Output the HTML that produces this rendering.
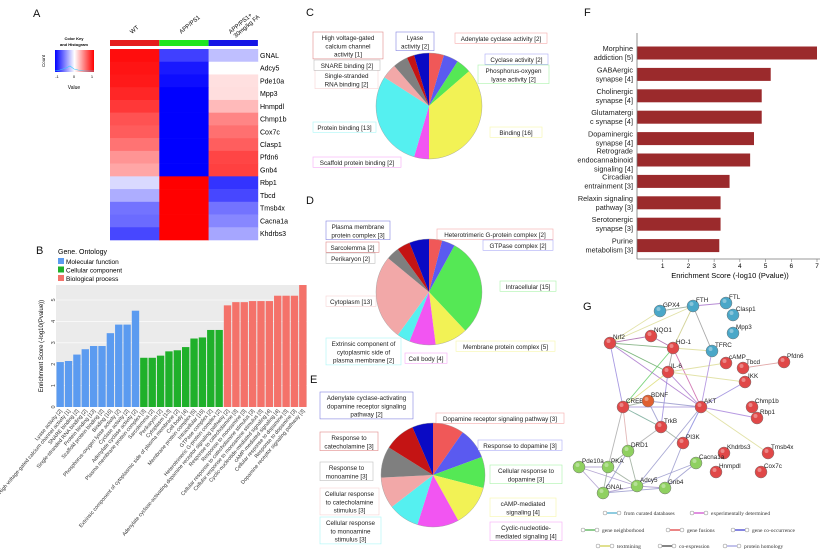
<!DOCTYPE html>
<html><head><meta charset="utf-8">
<style>
html,body{margin:0;padding:0;background:#fff;}
svg{display:block;font-family:"Liberation Sans",Arial,sans-serif;}
</style></head>
<body>
<svg id="fig" width="824" height="553" viewBox="0 0 824 553" xmlns="http://www.w3.org/2000/svg">
<g font-size="11" fill="#111">
<text x="33" y="17">A</text><text x="36" y="254">B</text><text x="306" y="16">C</text>
<text x="306" y="204">D</text><text x="310" y="383">E</text><text x="584" y="16">F</text><text x="583" y="310">G</text>
</g>
<g id="heat"></g>
<g id="barsB"></g>
<g id="pies"></g>
<g id="barsF"></g>
<g id="net"></g>
</svg>
<script>
// ---------- Panel A data ----------
const heatGenes=["GNAL","Adcy5","Pde10a","Mpp3","Hnmpdl","Chmp1b","Cox7c","Clasp1","Pfdn6","Gnb4","Rbp1","Tbcd","Tmsb4x","Cacna1a","Khdrbs3"];
const heatGroups=["WT","APP/PS1","APP/PS1+ 30mg/kg FA"];
const heatWT=[0.95,0.92,0.9,0.85,0.78,0.68,0.64,0.55,0.42,0.35,-0.15,-0.32,-0.55,-0.58,-0.72];
const heatAPP=[-0.75,-0.9,-0.95,-1,-1,-1,-1,-1,-1,-1,1,1,1,1,1];
const heatFA=[-0.25,0,0.12,0.13,0.27,0.48,0.56,0.63,0.73,0.75,-0.8,-0.72,-0.55,-0.47,-0.35];
// ---------- Panel B data ----------
const goLabels=["Lyase activity [2]","High voltage-gated calcium channel activity [1]","SNARE binding [2]","Single-stranded RNA binding [2]","Protein binding [13]","Scaffold protein binding [2]","Binding [16]","Phosphorus-oxygen lyase activity [2]","Cyclase activity [2]","Adenylate cyclase activity [2]",
"Plasma membrane protein complex [3]","Sarcolemma [2]","Perikaryon [2]","Cytoplasm [13]","Extrinsic component of cytoplasmic side of plasma membrane [2]","Cell body [4]","Membrane protein complex [5]","Intracellular [15]","GTPase complex [2]","Heterotrimeric G-protein complex [2]",
"Adenylate cyclase-activating dopamine receptor signaling pathway [2]","Response to catecholamine [3]","Response to monoamine [3]","Cellular response to catecholamine stimulus [3]","Cellular response to monoamine stimulus [3]","Cyclic-nucleotide-mediated signaling [4]","cAMP-mediated signaling [4]","Cellular response to dopamine [3]","Response to dopamine [3]","Dopamine receptor signaling pathway [3]"];
const goValues=[2.1,2.15,2.45,2.7,2.85,2.85,3.45,3.85,3.85,4.5, 2.3,2.3,2.4,2.6,2.65,2.8,3.2,3.25,3.6,3.6, 4.75,4.9,4.9,4.95,4.95,4.95,5.2,5.2,5.2,5.7];
const goCategory=[0,0,0,0,0,0,0,0,0,0,1,1,1,1,1,1,1,1,1,1,2,2,2,2,2,2,2,2,2,2];
const goCatNames=["Molecular function","Cellular component","Biological process"];
const goTicks=[0,1,2,3,4,5];
// ---------- Pie data ----------
const pieCLabels=["Adenylate cyclase activity [2]","Cyclase activity [2]","Phosphorus-oxygen lyase activity [2]","Binding [16]","Scaffold protein binding [2]","Protein binding [13]","Single-stranded RNA binding [2]","SNARE binding [2]","High voltage-gated calcium channel activity [1]","Lyase activity [2]"];
const pieCValues=[2,2,2,16,2,13,2,2,1,2];
const pieDLabels=["Heterotrimeric G-protein complex [2]","GTPase complex [2]","Intracellular [15]","Membrane protein complex [5]","Cell body [4]","Extrinsic component of cytoplasmic side of plasma membrane [2]","Cytoplasm [13]","Perikaryon [2]","Sarcolemma [2]","Plasma membrane protein complex [3]"];
const pieDValues=[2,2,15,5,4,2,13,2,2,3];
const pieELabels=["Dopamine receptor signaling pathway [3]","Response to dopamine [3]","Cellular response to dopamine [3]","cAMP-mediated signaling [4]","Cyclic-nucleotide-mediated signaling [4]","Cellular response to monoamine stimulus [3]","Cellular response to catecholamine stimulus [3]","Response to monoamine [3]","Response to catecholamine [3]","Adenylate cyclase-activating dopamine receptor signaling pathway [2]"];
const pieEValues=[3,3,3,4,4,3,3,3,3,2];
// ---------- Panel F data ----------
const keggLabels=[["Morphine","addiction [5]"],["GABAergic","synapse [4]"],["Cholinergic","synapse [4]"],["Glutamatergi","c synapse [4]"],["Dopaminergic","synapse [4]"],["Retrograde","endocannabinoid","signaling [4]"],["Circadian","entrainment [3]"],["Relaxin signaling","pathway [3]"],["Serotonergic","synapse [3]"],["Purine","metabolism [3]"]];
const keggValues=[7.0,5.2,4.85,4.85,4.55,4.4,3.6,3.25,3.25,3.2];
const keggTicks=[1,2,3,4,5,6,7];

const NS="http://www.w3.org/2000/svg";
function mk(tag,attrs,parent,txt){const e=document.createElementNS(NS,tag);for(const k in attrs)e.setAttribute(k,attrs[k]);if(txt!==undefined)e.textContent=txt;parent.appendChild(e);return e;}

// ---------- Heatmap ----------
(function(){
 const g=document.getElementById('heat');
 function col(v){const w=Math.round(255*(1-Math.abs(v)));return v>=0?`rgb(255,${w},${w})`:`rgb(${w},${w},255)`;}
 const x0=110,cw=49.3,y0=49,rh=(240-49)/heatGenes.length;
 const hdr=["#e51c1c","#1fe61f","#1414e6"];
 const cols=[heatWT,heatAPP,heatFA];
 heatGroups.forEach((n,j)=>{
  const r=mk('rect',{x:x0+j*cw,y:40,width:cw,height:6,fill:hdr[j]},g);
  
  const t=mk('text',{x:x0+j*cw+22,y:34,'font-size':6,transform:`rotate(-40 ${x0+j*cw+22} 34)`},g,j==2?"APP/PS1+":n);
  
  if(j==2){const t2=mk('text',{x:x0+j*cw+27,y:38,'font-size':6,transform:`rotate(-40 ${x0+j*cw+27} 38)`},g,"30mg/kg FA");}
 });
 heatGenes.forEach((gn,i)=>{
  cols.forEach((arr,j)=>{
   const r=mk('rect',{x:x0+j*cw,y:y0+i*rh,width:cw+0.3,height:rh+0.3,fill:col(arr[i])},g);
   
  });
  const t=mk('text',{x:260,y:y0+i*rh+rh/2+2.5,'font-size':7},g,gn);
  
 });
 // color key
 const d=mk('defs',{},g);const lg=mk('linearGradient',{id:'ck',x1:0,x2:1,y1:0,y2:0},d);
 mk('stop',{offset:0,'stop-color':'#0000ff'},lg);mk('stop',{offset:0.5,'stop-color':'#fff'},lg);mk('stop',{offset:1,'stop-color':'#ff0000'},lg);
 const k=mk('rect',{x:55,y:50,width:39,height:22,fill:'url(#ck)'},g);
 mk('polyline',{points:'55,71 60,70 66,68 70,66 74,69 78,70 84,71 94,71',fill:'none',stroke:'#3cf',"stroke-width":0.6},g);
 mk('text',{x:74,y:40,'font-size':4,'font-weight':'bold','text-anchor':'middle'},g,"Color Key");
 mk('text',{x:74,y:46,'font-size':4,'font-weight':'bold','text-anchor':'middle'},g,"and Histogram");
 mk('text',{x:45,y:61,'font-size':4.5,'text-anchor':'middle',transform:'rotate(-90 45 61)'},g,"Count");
 [["-1",57],["0",74],["1",92]].forEach(a=>mk('text',{x:a[1],y:78,'font-size':4,'text-anchor':'middle'},g,a[0]));
 mk('text',{x:74,y:89,'font-size':5,'text-anchor':'middle'},g,"Value");
})();

// ---------- Panel B ----------
(function(){
 const g=document.getElementById('barsB');
 const L=56,R=307,T=285,B=407,ymax=5.7;
 const y=v=>B-v*(B-300)/5;
 const bw=(R-L)/goValues.length;
 const x=i=>L+i*bw;
 const cc=["#5b9bf0","#1fb02a","#f4726a"];
 const bg=mk('rect',{x:L,y:T,width:R-L,height:B-T,fill:'#ebebeb'},g);
 goTicks.forEach(t=>{
  mk('line',{x1:L,x2:R,y1:y(t),y2:y(t),stroke:'#fff','stroke-width':0.6},g);
  const tl=mk('text',{x:L-3,y:y(t)+2,'font-size':5.5,'text-anchor':'middle',fill:'#444',transform:`rotate(-90 ${L-3} ${y(t)})`},g,t);
  
 });
 goValues.forEach((v,i)=>{
  const r=mk('rect',{x:x(i)+0.5,y:y(v),width:bw-1,height:B-y(v),fill:cc[goCategory[i]]},g);
  
  const cx=x(i)+bw/2+2;
  const t=mk('text',{x:cx,y:B+4,'font-size':5.3,'text-anchor':'end',fill:'#333',transform:`rotate(-50 ${cx} ${B+4})`},g,goLabels[i]);
  
 });
 const yt=mk('text',{x:43,y:346,'font-size':6,'text-anchor':'middle',transform:'rotate(-90 43 346)'},g,"Enrichment Score (-log10(Pvalue))");
 
 mk('text',{x:58,y:254,'font-size':7},g,"Gene. Ontology");
 goCatNames.forEach((n,i)=>{
  const s=mk('rect',{x:58,y:258+i*8.5,width:6,height:6,fill:cc[i]},g);
  const t=mk('text',{x:66,y:264+i*8.5,'font-size':6.5},g,n);
 });
})();

// ---------- Pies ----------
(function(){
 const g=document.getElementById('pies');
 const pc=["#f05858","#5a5af0","#55e855","#f2f255","#f255f2","#55f0f0","#f2a8a8","#7f7f7f","#c41414","#0a0ac4"];
 function pie(vals,labels,cx,cy,r,boxes,name){
  const tot=vals.reduce((a,b)=>a+b,0);let a0=0;
  vals.forEach((v,i)=>{
   const a1=a0+v/tot*2*Math.PI;
   const p=(a)=>[cx+r*Math.sin(a),cy-r*Math.cos(a)];
   const [x0,y0]=p(a0),[x1,y1]=p(a1);
   const s=mk('path',{d:`M${cx},${cy}L${x0},${y0}A${r},${r} 0 ${a1-a0>Math.PI?1:0} 1 ${x1},${y1}Z`,fill:pc[i]},g);
   
   a0=a1;
  });
  mk('circle',{cx:cx,cy:cy,r:r,fill:'none',stroke:'#999','stroke-width':0.4},g);
  boxes.forEach((b,i)=>{
   const [bx,by,bw,lines]=b;const bh=lines.length*8.3+2;
   const rr=mk('rect',{x:bx,y:by,width:bw,height:bh,fill:'#fff',stroke:pc[i],'stroke-opacity':0.5,'stroke-width':0.6},g);
   
   lines.forEach((ln,k)=>{const t=mk('text',{x:bx+bw/2,y:by+8+k*8.3,'font-size':6.3,'text-anchor':'middle',fill:'#222'},g,ln);});
  });
 }
 pie(pieCValues,pieCLabels,429,106,53,[
  [455,33,92,["Adenylate cyclase activity [2]"]],[485,54,63,["Cyclase activity [2]"]],[478,65,71,["Phosphorus-oxygen","lyase activity [2]"]],
  [490,127,52,["Binding [16]"]],[313,157,88,["Scaffold protein binding [2]"]],[313,122,63,["Protein binding [13]"]],
  [315,70,63,["Single-stranded","RNA binding [2]"]],[314,60,66,["SNARE binding [2]"]],[313,32,70,["High voltage-gated","calcium channel","activity [1]"]],[396,32,38,["Lyase","activity [2]"]]],'pie-c');
 pie(pieDValues,pieDLabels,429,292,53,[
  [437,229,116,["Heterotrimeric G-protein complex [2]"]],[483,240,70,["GTPase complex [2]"]],[500,281,56,["Intracellular [15]"]],
  [456,341,99,["Membrane protein complex [5]"]],[405,353,42,["Cell body [4]"]],[326,338,75,["Extrinsic component of","cytoplasmic side of","plasma membrane [2]"]],
  [326,296,50,["Cytoplasm [13]"]],[326,253,49,["Perikaryon [2]"]],[326,242,53,["Sarcolemma [2]"]],[326,221,64,["Plasma membrane","protein complex [3]"]]],'pie-d');
 pie(pieEValues,pieELabels,433,475,52,[
  [436,413,128,["Dopamine receptor signaling pathway [3]"]],[478,440,84,["Response to dopamine [3]"]],[490,465,72,["Cellular response to","dopamine [3]"]],
  [490,498,66,["cAMP-mediated","signaling [4]"]],[490,522,72,["Cyclic-nucleotide-","mediated signaling [4]"]],[320,517,61,["Cellular response","to monoamine","stimulus [3]"]],
  [320,488,59,["Cellular response","to catecholamine","stimulus [3]"]],[320,462,53,["Response to","monoamine [3]"]],[320,432,58,["Response to","catecholamine [3]"]],
  [320,392,93,["Adenylate cyclase-activating","dopamine receptor signaling","pathway [2]"]]],'pie-e');
})();

// ---------- Panel F ----------
(function(){
 const g=document.getElementById('barsF');
 const L=637,T=33,B=259,unit=(817-637)/7;
 const x=v=>L+v*unit;
 const step=(B-T-12)/keggValues.length;
 const yc=i=>T+20+i*step;
 keggValues.forEach((v,i)=>{
  const r=mk('rect',{x:L,y:yc(i)-6.5,width:x(v)-L,height:13,fill:'#9b2a2c'},g);
  
  const ls=keggLabels[i];
  ls.forEach((ln,k)=>{const t=mk('text',{x:L-4,y:yc(i)+2.5+(k-(ls.length-1)/2)*9,'font-size':7.3,'text-anchor':'end',fill:'#222'},g,ln);});
 });
 mk('line',{x1:L,x2:L,y1:T,y2:B,stroke:'#777','stroke-width':0.8},g);
 mk('line',{x1:L,x2:820,y1:B,y2:B,stroke:'#777','stroke-width':0.8},g);
 keggTicks.forEach(t=>{
  mk('line',{x1:x(t),x2:x(t),y1:B,y2:B+3,stroke:'#777','stroke-width':0.6},g);
  const tl=mk('text',{x:x(t),y:B+9,'font-size':6.5,'text-anchor':'middle'},g,t);
 });
 const xt=mk('text',{x:730,y:278,'font-size':7.5,'text-anchor':'middle'},g,"Enrichment Score (-log10 (Pvalue))");
 
})();

// ---------- Panel G ----------
(function(){
 const g=document.getElementById('net');
 const nodes={GPX4:[660,311,'b'],FTH:[693,306,'b'],FTL:[726,303,'b'],Clasp1:[733,315,'b'],Mpp3:[733,333,'b'],TFRC:[712,351,'b'],
 Nrf2:[610,343,'r'],NQO1:[651,336,'r'],"HO-1":[673,348,'r'],"IL-6":[668,372,'r'],cAMP:[726,363,'r'],Tbcd:[743,368,'r'],Pfdn6:[784,362,'r'],IKK:[745,382,'r'],
 CREB:[623,407,'r'],BDNF:[648,401,'o'],AKT:[701,407,'r'],Chmp1b:[752,407,'r'],Rbp1:[757,418,'r'],TrkB:[661,427,'r'],PI3K:[683,443,'r'],
 Khdrbs3:[724,453,'r'],Tmsb4x:[768,453,'r'],Hnmpdl:[716,472,'r'],Cox7c:[761,472,'r'],
 DRD1:[628,451,'g'],Cacna1a:[696,463,'g'],Pde10a:[579,467,'g'],PKA:[608,467,'g'],Adcy5:[637,486,'g'],Gnb4:[665,488,'g'],GNAL:[603,493,'g']};
 const edges=[["GPX4","FTH","#9a9"],["FTH","FTL","#a7c"],["FTH","TFRC","#999"],["FTH","HO-1","#cc8"],["FTH","Nrf2","#dd9"],["GPX4","Nrf2","#dd9"],["Nrf2","NQO1","#a6a"],
 ["Nrf2","HO-1","#7a7"],["Nrf2","AKT","#a7c"],["Nrf2","CREB","#98d"],["Nrf2","IL-6","#6a6"],["NQO1","HO-1","#a6a"],["HO-1","IL-6","#999"],["HO-1","AKT","#c6a"],["HO-1","CREB","#6c6"],
 ["IL-6","AKT","#a7c"],["IL-6","CREB","#dd7"],["IL-6","cAMP","#dd9"],["IL-6","IKK","#dd9"],["IL-6","TrkB","#98d"],["Tbcd","Pfdn6","#d99"],["IKK","AKT","#98d"],
 ["CREB","BDNF","#9a9"],["CREB","AKT","#a9d"],["CREB","TrkB","#7a9"],["BDNF","TrkB","#99c"],["BDNF","AKT","#99c"],["AKT","PI3K","#88d"],["AKT","Rbp1","#a8d"],["AKT","Tmsb4x","#dd9"],
 ["TrkB","PI3K","#9a9"],["PI3K","Gnb4","#99c"],["AKT","Adcy5","#99c"],["TrkB","DRD1","#aaa"],["CREB","PKA","#aaa"],["CREB","DRD1","#daa"],
 ["Pde10a","PKA","#a9c"],["Pde10a","GNAL","#a9c"],["Pde10a","Adcy5","#a9c"],["PKA","Adcy5","#9a9"],["PKA","GNAL","#9a9"],["DRD1","GNAL","#99c"],["DRD1","Adcy5","#9a9"],
 ["DRD1","PKA","#9a9"],["GNAL","Adcy5","#a9c"],["Adcy5","Gnb4","#a9c"],["GNAL","Gnb4","#99c"],["Cacna1a","Gnb4","#99c"],["Cacna1a","Adcy5","#99c"],["TFRC","HO-1","#dd9"],["TFRC","AKT","#a8d"]];
 edges.forEach(e=>{const a=nodes[e[0]],b=nodes[e[1]];
  const l=mk('line',{x1:a[0],y1:a[1],x2:b[0],y2:b[1],stroke:e[2],'stroke-width':0.9,'stroke-opacity':0.85},g);
  });
 const fc={b:'#4aa7c8',r:'#e04848',o:'#e06030',g:'#8fd060'};
 for(const n in nodes){const [x,y,c]=nodes[n];
  const ci=mk('circle',{cx:x,cy:y,r:6,fill:fc[c],stroke:'#777','stroke-width':0.5},g);
  
  mk('circle',{cx:x-1.5,cy:y-2,r:2,fill:'#fff','fill-opacity':0.35},g);
  const t=mk('text',{x:x+3,y:y-4,'font-size':6.3,fill:'#222'},g,n);}
 const leg=[[605,513,"#4ac","from curated databases"],[692,513,"#c4c","experimentally determined"],[583,530,"#4a4","gene neighborhood"],[668,530,"#d33","gene fusions"],[733,530,"#33c","gene co-occurrence"],
 [598,546,"#cc4","textmining"],[660,546,"#333","co-expression"],[725,546,"#99d","protein homology"]];
 leg.forEach(l=>{const [x,y,c,n]=l;
  mk('circle',{cx:x,cy:y,r:2,fill:'#fff',stroke:'#888','stroke-width':0.5},g);mk('circle',{cx:x+14,cy:y,r:2,fill:'#fff',stroke:'#888','stroke-width':0.5},g);
  mk('line',{x1:x+2,x2:x+12,y1:y,y2:y,stroke:c,'stroke-width':1.2},g);
  const t=mk('text',{x:x+19,y:y+2,'font-size':5.5,'font-family':'Liberation Serif, serif',fill:'#333'},g,n);});
})();
</script>
</body></html>
